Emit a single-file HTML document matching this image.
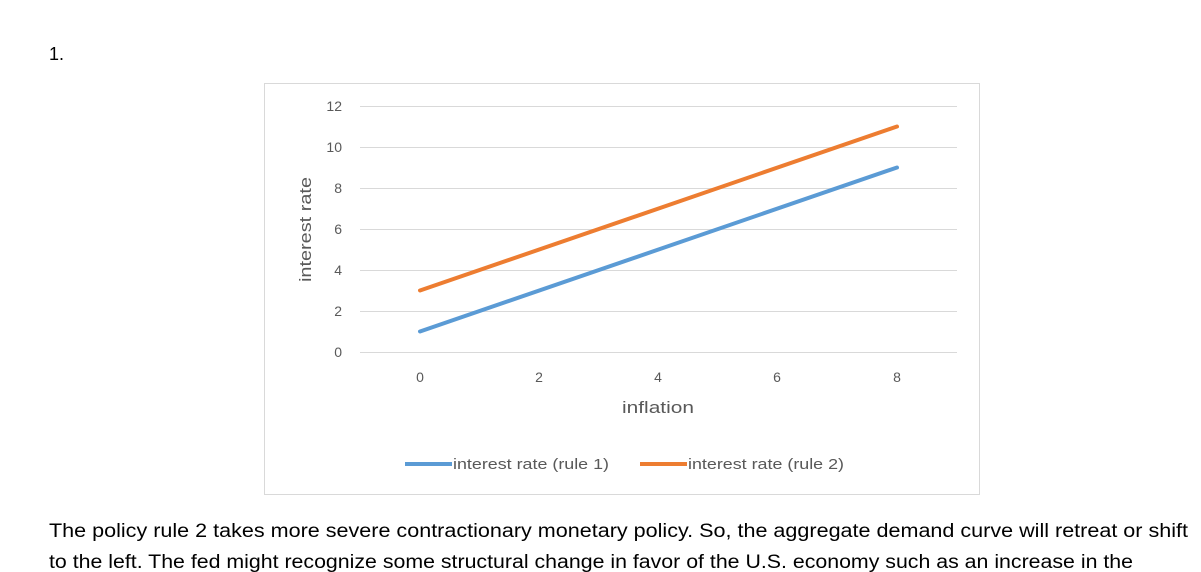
<!DOCTYPE html>
<html><head><style>
html,body{margin:0;padding:0;background:#fff;width:1201px;height:572px;overflow:hidden;}
svg{display:block;}
</style></head><body>
<svg width="1201" height="572" xmlns="http://www.w3.org/2000/svg" font-family="Liberation Sans, sans-serif">
<text x="49" y="60" font-size="18" fill="#000">1.</text>
<rect x="264.5" y="83.5" width="715" height="411" fill="#fff" stroke="#d9d9d9" stroke-width="1"/>
<g stroke="#d9d9d9" stroke-width="1">
<line x1="360" y1="106.5" x2="957" y2="106.5"/>
<line x1="360" y1="147.5" x2="957" y2="147.5"/>
<line x1="360" y1="188.5" x2="957" y2="188.5"/>
<line x1="360" y1="229.5" x2="957" y2="229.5"/>
<line x1="360" y1="270.5" x2="957" y2="270.5"/>
<line x1="360" y1="311.5" x2="957" y2="311.5"/>
<line x1="360" y1="352.5" x2="957" y2="352.5"/>
</g>
<g font-size="14" fill="#595959" text-anchor="end">
<text x="342" y="111">12</text>
<text x="342" y="152">10</text>
<text x="342" y="193">8</text>
<text x="342" y="234">6</text>
<text x="342" y="275">4</text>
<text x="342" y="316">2</text>
<text x="342" y="357">0</text>
</g>
<g font-size="14" fill="#595959" text-anchor="middle">
<text x="420" y="382">0</text>
<text x="539" y="382">2</text>
<text x="658" y="382">4</text>
<text x="777" y="382">6</text>
<text x="897" y="382">8</text>
</g>
<text x="622" y="413" font-size="17" fill="#595959" textLength="72" lengthAdjust="spacingAndGlyphs">inflation</text>
<text transform="translate(311,282) rotate(-90)" font-size="17" fill="#595959" textLength="105" lengthAdjust="spacingAndGlyphs">interest rate</text>
<line x1="420" y1="331.5" x2="897" y2="167.5" stroke="#5b9bd5" stroke-width="4" stroke-linecap="round"/>
<line x1="420" y1="290.5" x2="897" y2="126.5" stroke="#ed7d31" stroke-width="4" stroke-linecap="round"/>
<line x1="405" y1="464" x2="452" y2="464" stroke="#5b9bd5" stroke-width="4"/>
<text x="453" y="469" font-size="15" fill="#595959" textLength="156" lengthAdjust="spacingAndGlyphs">interest rate (rule 1)</text>
<line x1="640" y1="464" x2="687" y2="464" stroke="#ed7d31" stroke-width="4"/>
<text x="688" y="469" font-size="15" fill="#595959" textLength="156" lengthAdjust="spacingAndGlyphs">interest rate (rule 2)</text>
<text x="49" y="537" font-size="19" fill="#000" textLength="1139" lengthAdjust="spacingAndGlyphs">The policy rule 2 takes more severe contractionary monetary policy. So, the aggregate demand curve will retreat or shift</text>
<text x="49" y="568" font-size="19" fill="#000" textLength="1084" lengthAdjust="spacingAndGlyphs">to the left. The fed might recognize some structural change in favor of the U.S. economy such as an increase in the</text>
</svg>
</body></html>
